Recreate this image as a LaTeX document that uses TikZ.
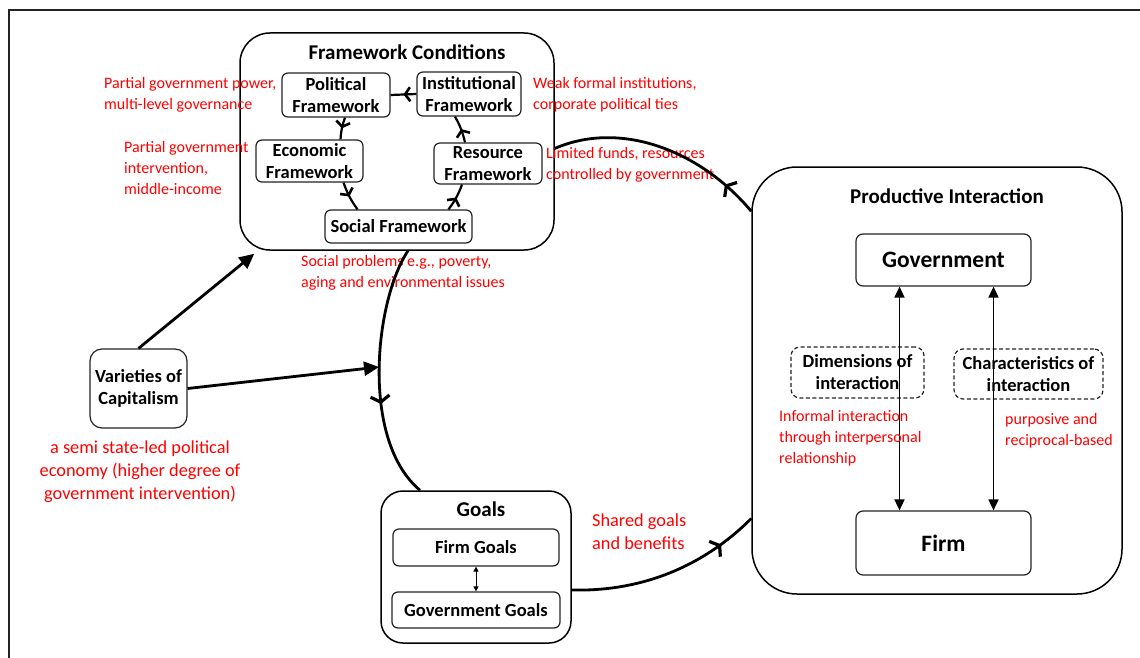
\documentclass[tikz,border=0pt]{standalone}
\usepackage{fontspec}
\setmainfont{Carlito}
\usetikzlibrary{arrows.meta,decorations.markings,calc}
\definecolor{annot}{RGB}{255,0,0}
\definecolor{edge}{RGB}{35,35,35}
\tikzset{
  box/.style={draw=edge, line width=1.2pt, rounded corners=6pt, align=center,
    font=\bfseries\fontsize{18.5}{22}\selectfont, inner sep=0pt},
  dbox/.style={box, dashed, dash pattern=on 4pt off 2.5pt, rounded corners=9pt},
  bigbox/.style={box, font=\bfseries\fontsize{23.5}{26}\selectfont, rounded corners=7pt},
  panel/.style={draw=black, line width=1.5pt, rounded corners=#1, inner sep=0pt},
  ptitle/.style={font=\bfseries\fontsize{21}{24}\selectfont, inner sep=0pt},
  note/.style={text=annot, align=left, font=\fontsize{16}{21}\selectfont,
    inner sep=0pt, anchor=north west},
  flow/.style={line width=2.8pt, postaction={decorate}, decoration={markings,
    mark=at position #1 with {\arrow{Straight Barb[length=6pt,width=19pt,line width=3.2pt]}}}},
  cyc/.style={line width=2.2pt, postaction={decorate}, decoration={markings,
    mark=at position 0.5 with {\arrow{Straight Barb[length=5pt,width=14pt,line width=2.6pt]}}}},
  push/.style={line width=2.8pt, -{Triangle[length=15pt,width=14pt]}},
  link/.style={line width=1.6pt, {Triangle[length=11pt,width=10pt]}-{Triangle[length=11pt,width=10pt]}},
  minilink/.style={line width=1pt, {Triangle[length=5pt,width=5pt]}-{Triangle[length=5pt,width=5pt]}},
}
\begin{document}
\begin{tikzpicture}[x=1pt,y=-1pt]
\useasboundingbox (0,0) rectangle (1140,658);
% outer frame (left and top edges)
\draw[line width=2pt, edge] (9,658) -- (9,10) -- (1140,10);

% ---- Framework Conditions panel ----
\node[panel=30pt, minimum width=314pt, minimum height=217pt] (fc) at (397,141.5) {};
\node[ptitle] (fctitle) at (407,52) {Framework Conditions};
\node[box, minimum width=108pt, minimum height=44pt] (pol) at (336,95) {Political\\Framework};
\node[box, minimum width=104pt, minimum height=44pt] (inst) at (469,94) {Institutional\\Framework};
\node[box, minimum width=107pt, minimum height=42pt] (eco) at (309.5,161) {Economic\\Framework};
\node[box, minimum width=108pt, minimum height=41pt] (res) at (488,163.5) {Resource\\Framework};
\node[box, minimum width=147pt, minimum height=33pt] (soc) at (398.5,226.5) {Social Framework};

\draw[cyc] (inst.west) -- (pol.east);
\draw[cyc] ([shift={(9,0)}]pol.south) to[bend right=8] ([shift={(31,0)}]eco.north);
\draw[cyc] ([shift={(34,0)}]eco.south) to[bend right=8] ([shift={(-41,0)}]soc.north);
\draw[cyc] ([shift={(50,0)}]soc.north) to[bend right=8] ([shift={(-26,0)}]res.south);
\draw[cyc] ([shift={(-23,0)}]res.north) to[bend right=8] ([shift={(-14,0)}]inst.south);

% annotations around the framework panel
\node[note] (npol) at (104,77) {Partial government power,\\multi-level governance};
\node[note] (neco) at (124,141) {Partial government\\intervention,\\middle-income};
\node[note] (ninst) at (533,77) {Weak formal institutions,\\corporate political ties};
\node[note] (nres) at (546,147) {Limited funds, resources\\controlled by government};
\node[note] (nsoc) at (301,255) {Social problems e.g., poverty,\\aging and environmental issues};

% ---- Varieties of Capitalism ----
\node[box, rounded corners=12pt, minimum width=97pt, minimum height=79pt] (voc) at (138.5,388.5) {Varieties of\\Capitalism};
\node[text=annot, align=center, font=\fontsize{18.3}{23}\selectfont, inner sep=0pt, anchor=north] (nvoc) at (140,441) {a semi state-led political\\economy (higher degree of\\government intervention)};

% ---- Goals panel ----
\node[panel=22pt, minimum width=190pt, minimum height=152pt] (goals) at (476,567) {};
\node[ptitle] (gtitle) at (481,509) {Goals};
\node[box, minimum width=166pt, minimum height=37pt] (fg) at (476,547.5) {Firm Goals};
\node[box, minimum width=168pt, minimum height=36pt] (gg) at (476,610) {Government Goals};
\draw[minilink] (fg.south) -- (gg.north);

% ---- Productive Interaction panel ----
\node[panel=45pt, minimum width=370pt, minimum height=427pt] (pi) at (937,380.5) {};
\node[ptitle] (pititle) at (947,196) {Productive Interaction};
\node[bigbox, minimum width=175pt, minimum height=52pt] (gov) at (943.5,260) {Government};
\node[bigbox, minimum width=175pt, minimum height=64pt] (firm) at (943.5,543) {Firm};
\node[dbox, minimum width=133pt, minimum height=51pt] (dim) at (857.5,372.5) {Dimensions of\\interaction};
\node[dbox, minimum width=149pt, minimum height=50pt] (chr) at (1028.5,374) {Characteristics of\\interaction};
\draw[link] ([shift={(-44,0)}]gov.south) -- ([shift={(-44,0)}]firm.north);
\draw[link] ([shift={(50,0)}]gov.south) -- ([shift={(50,0)}]firm.north);
\node[note] (ndim) at (779,410) {Informal interaction\\through interpersonal\\relationship};
\node[note] (nchr) at (1005,413) {purposive and\\reciprocal-based};

% ---- the cycle linking the three panels ----
\coordinate (ring) at (379,367);
\draw[flow=0.62] ([shift={(11,0)}]fc.south) .. controls (375,300) and (360,440) .. ([shift={(-56,0)}]goals.north);
\draw[flow=0.8] ([shift={(0,23)}]goals.east) .. controls (650,592) and (710,560) .. ([shift={(0,138)}]pi.west);
\draw[flow=0.17] ([shift={(0,45)}]pi.north west) .. controls (700,150) and (620,120) .. ([shift={(0,7)}]fc.east);
\node[text=annot, align=left, font=\fontsize{18.3}{23}\selectfont, inner sep=0pt, anchor=north west] (nshared) at (592,514) {Shared goals\\and benefits};

% ---- influence of the varieties of capitalism ----
\draw[push] (voc.north) -- ([shift={(15,3)}]fc.south west);
\draw[push] (voc.east) -- (ring);
\end{tikzpicture}
\end{document}
